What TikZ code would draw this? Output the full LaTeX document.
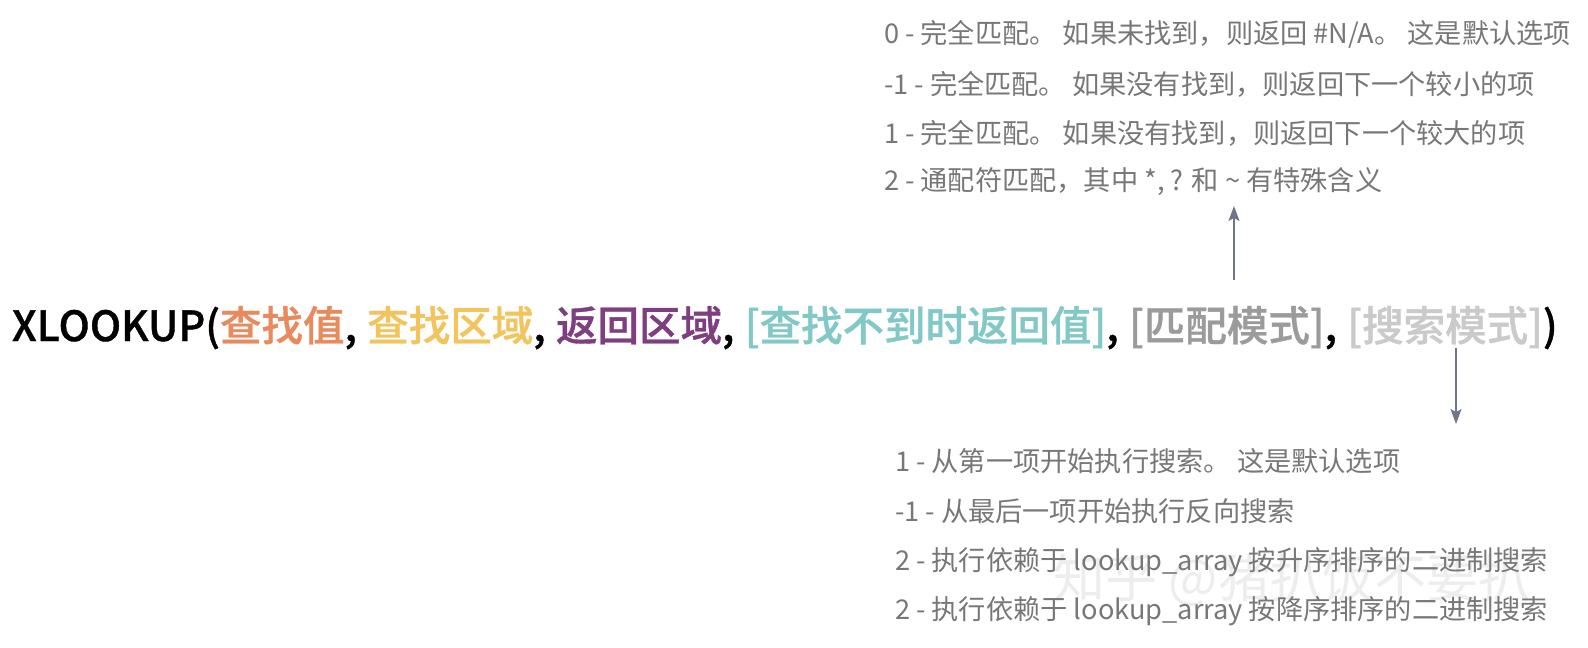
\documentclass[tikz,border=0pt]{standalone}
\usepackage{fontspec}
\setmainfont{Noto Sans CJK SC}
\newfontfamily\fmed[FakeBold=0.9]{Noto Sans CJK SC Medium}
\usetikzlibrary{arrows.meta}
\definecolor{cOrange}{HTML}{E98A5E}
\definecolor{cYellow}{HTML}{F1C45E}
\definecolor{cPurple}{HTML}{7E3E7F}
\definecolor{cTeal}{HTML}{82C8C7}
\definecolor{cGray}{HTML}{9B9B9B}
\definecolor{cLight}{HTML}{CACACA}
\definecolor{cText}{HTML}{777777}
\definecolor{cArrow}{HTML}{6F7786}
\definecolor{cMark}{HTML}{EDEDED}
\tikzset{
  fpart/.style={inner sep=0pt, outer sep=0pt, anchor=base west, font=\fontsize{41.5}{50}\selectfont\fmed},
  note/.style={inner sep=0pt, outer sep=0pt, anchor=west, text=cText, font=\fontsize{27.2}{32}\selectfont},
  pointer/.style={draw=cArrow, line width=1.4pt, -{Stealth[length=15pt,width=11pt,inset=3pt]}},
  wmark/.style={inner sep=0pt, anchor=west, text=cMark, font=\fontsize{52}{60}\selectfont}
}
\begin{document}
\begin{tikzpicture}[x=1pt,y=-1pt]
\useasboundingbox (0,0) rectangle (1588,648);
% watermark
\node[wmark] (wm) at (1053,580) {知乎 @猪扒饭不要扒};
% formula
\node[fpart] (f0) at (12,341) {XLOOKUP(};
\node[fpart, text=cOrange] (p1) at (f0.base east) {查找值};
\node[fpart] (c1) at (p1.base east) {,\kern0.25em};
\node[fpart, text=cYellow] (p2) at (c1.base east) {查找区域};
\node[fpart] (c2) at (p2.base east) {,\kern0.25em};
\node[fpart, text=cPurple] (p3) at (c2.base east) {返回区域};
\node[fpart] (c3) at (p3.base east) {,\kern0.25em};
\node[fpart, text=cTeal] (p4) at (c3.base east) {[查找不到时返回值]};
\node[fpart] (c4) at (p4.base east) {,\kern0.25em};
\node[fpart, text=cGray] (p5) at (c4.base east) {[匹配模式]};
\node[fpart] (c5) at (p5.base east) {,\kern0.25em};
\node[fpart, text=cLight] (p6) at (c5.base east) {[搜索模式]};
\node[fpart] (f1) at (p6.base east) {)};
% top notes
\node[note] (t1) at (884,34) {0 - 完全匹配。 如果未找到，则返回 \#N/A。 这是默认选项};
\node[note] (t2) at (884,84) {-1 - 完全匹配。 如果没有找到，则返回下一个较小的项};
\node[note] (t3) at (884,133) {1 - 完全匹配。 如果没有找到，则返回下一个较大的项};
\node[note] (t4) at (884,182) {2 - 通配符匹配，其中 *, ? 和 \textasciitilde{} 有特殊含义};
% bottom notes
\node[note] (b1) at (895,461) {1 - 从第一项开始执行搜索。 这是默认选项};
\node[note] (b2) at (895,511) {-1 - 从最后一项开始执行反向搜索};
\node[note] (b3) at (895,562) {2 - 执行依赖于 lookup\_array 按升序排序的二进制搜索};
\node[note] (b4) at (895,611) {2 - 执行依赖于 lookup\_array 按降序排序的二进制搜索};
% arrows
\coordinate (upS) at (1234,280);
\coordinate (upE) at (1234,206);
\draw[pointer] (upS) -- (upE);
\coordinate (dnS) at (1456,348);
\coordinate (dnE) at (1456,424);
\draw[pointer] (dnS) -- (dnE);
\end{tikzpicture}
\end{document}
